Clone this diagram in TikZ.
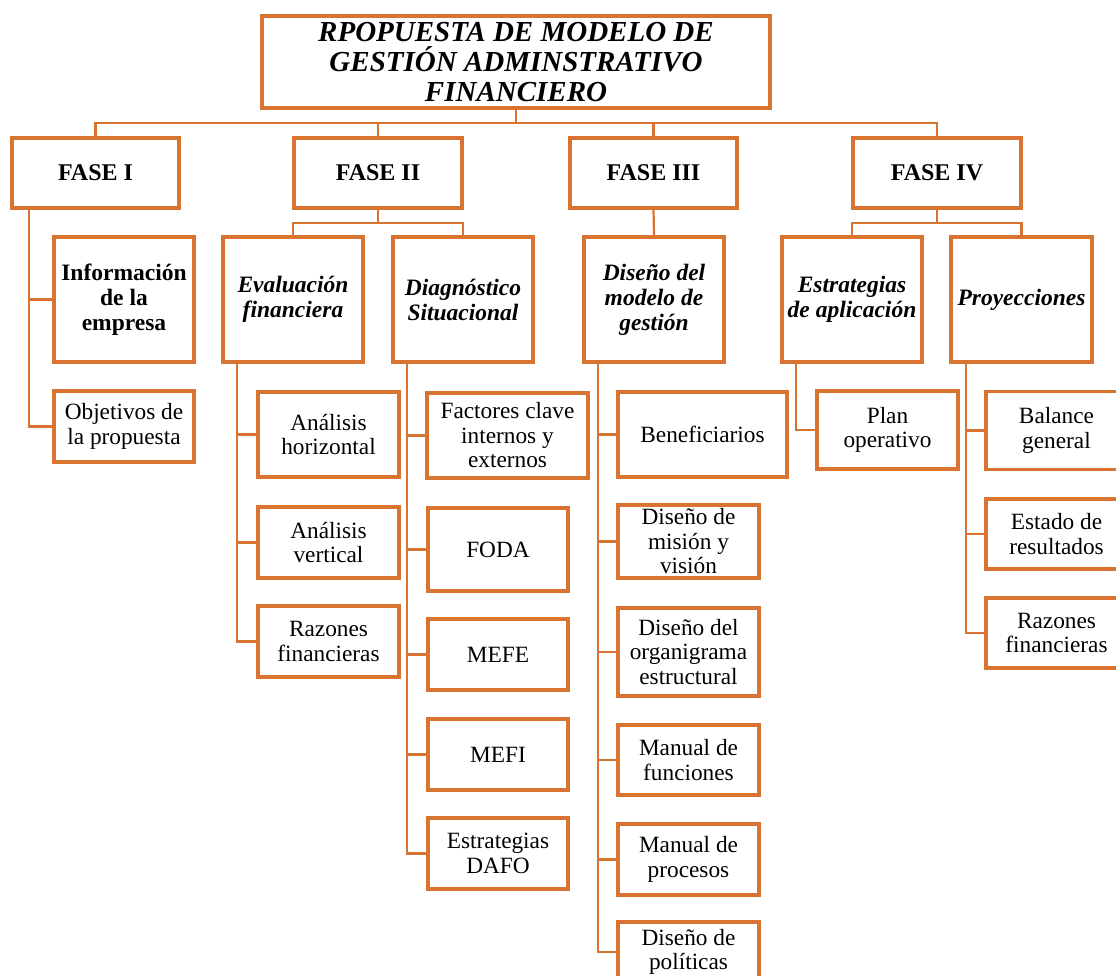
\documentclass[tikz,border=0pt]{standalone}
\usepackage{fontspec}
\setmainfont{Liberation Serif}
\definecolor{orgline}{RGB}{216,116,48}
\begin{document}
\begin{tikzpicture}[x=1pt,y=-1pt,
  box/.style={draw=orgline, line width=3.7pt, fill=white, align=center, inner sep=0pt, text=black},
  leaf/.style={box, font=\fontsize{23.3}{24.5}\selectfont},
  phase/.style={box, font=\fontsize{24}{26}\selectfont\bfseries},
  mid/.style={box, font=\fontsize{23.5}{25}\selectfont\bfseries\itshape},
  midup/.style={box, font=\fontsize{23.5}{25}\selectfont\bfseries},
  titlebox/.style={box, font=\fontsize{29}{30}\selectfont\bfseries\itshape},
  link/.style={draw=orgline, line width=2.2pt},
]
\useasboundingbox (0,0) rectangle (1116,976);

% title
\node[titlebox, minimum width=508, minimum height=92] (Title) at (516,62)
  {RPOPUESTA DE MODELO DE\\GESTIÓN ADMINSTRATIVO\\FINANCIERO};

% phases
\node[phase, minimum width=167, minimum height=70] (F1) at (95.5,173) {FASE I};
\node[phase, minimum width=168, minimum height=70] (F2) at (378,173) {FASE II};
\node[phase, minimum width=167, minimum height=70] (F3) at (653.5,173) {FASE III};
\node[phase, minimum width=168, minimum height=70] (F4) at (937,173) {FASE IV};

% second level
\node[midup, minimum width=140, minimum height=125] (Info) at (124,299.5) {Información\\de la\\empresa};
\node[mid, minimum width=140, minimum height=125] (Eval) at (293,299.5) {Evaluación\\financiera};
\node[mid, minimum width=140, minimum height=125] (Diag) at (463,299.5) {Diagnóstico\\Situacional};
\node[mid, minimum width=140, minimum height=125] (Mod) at (654,299.5) {Diseño del\\modelo de\\gestión};
\node[mid, minimum width=140, minimum height=125] (Estr) at (852,299.5) {Estrategias\\de aplicación};
\node[mid, minimum width=141, minimum height=125] (Proy) at (1021.5,299.5) {Proyecciones};

% phase I
\node[leaf, minimum width=140, minimum height=71] (Obj) at (124,426.5) {Objetivos de\\la propuesta};

% financial evaluation
\node[leaf, minimum width=141, minimum height=85] (AnH) at (328.5,434.5) {Análisis\\horizontal};
\node[leaf, minimum width=141, minimum height=71] (AnV) at (328.5,542.5) {Análisis\\vertical};
\node[leaf, minimum width=141, minimum height=71] (RazA) at (328.5,641.5) {Razones\\financieras};

% situational diagnosis
\node[leaf, minimum width=161, minimum height=85] (Fac) at (507.5,435.5) {Factores clave\\internos y\\externos};
\node[leaf, minimum width=140, minimum height=83] (Foda) at (498,549.5) {FODA};
\node[leaf, minimum width=140, minimum height=71] (Mefe) at (498,654.5) {MEFE};
\node[leaf, minimum width=140, minimum height=71] (Mefi) at (498,754.5) {MEFI};
\node[leaf, minimum width=140, minimum height=71] (Dafo) at (498,853.5) {Estrategias\\DAFO};

% management model design
\node[leaf, minimum width=169, minimum height=85] (Ben) at (702.5,434.5) {Beneficiarios};
\node[leaf, minimum width=141, minimum height=73] (Mis) at (688.5,541.5) {Diseño de\\misión y\\visión};
\node[leaf, minimum width=141, minimum height=88] (Org) at (688.5,652) {Diseño del\\organigrama\\estructural};
\node[leaf, minimum width=141, minimum height=70] (Fun) at (688.5,760) {Manual de\\funciones};
\node[leaf, minimum width=141, minimum height=71] (Pro) at (688.5,859.5) {Manual de\\procesos};
\node[leaf, minimum width=141, minimum height=60] (Pol) at (688.5,952) {Diseño de\\políticas};

% application strategies
\node[leaf, minimum width=141, minimum height=78] (Plan) at (887.5,430) {Plan\\operativo};

% projections
\node[leaf, minimum width=141, minimum height=78] (Bal) at (1056.5,430.5) {Balance\\general};
\node[leaf, minimum width=141, minimum height=70] (Est) at (1056.5,534) {Estado de\\resultados};
\node[leaf, minimum width=141, minimum height=70] (RazB) at (1056.5,633) {Razones\\financieras};

% bus lines
\coordinate (busA) at (0,123);
\coordinate (busB) at (0,223);
\coordinate (vI) at (29,0);
\coordinate (vE) at (237,0);
\coordinate (vD) at (407,0);
\coordinate (vM) at (598,0);
\coordinate (vA) at (796,0);
\coordinate (vP) at (966,0);

% title to phases
\draw[link] (Title.south) -- (Title.south |- busA);
\draw[link] (F1.north) |- (F4.north |- busA) -- (F4.north);
\draw[link] (F2.north) -- (F2.north |- busA);
\draw[link] (F3.north) -- (F3.north |- busA);

% phases to second level
\draw[link] (F2.south) -- (F2.south |- busB);
\draw[link] (Eval.north) |- (Diag.north |- busB) -- (Diag.north);
\draw[link] (F3.south) -- (Mod.north);
\draw[link] (F4.south) -- (F4.south |- busB);
\draw[link] (Estr.north) |- (Proy.north |- busB) -- (Proy.north);

% phase I branch
\draw[link] (F1.south -| vI) |- (Obj.west);
\draw[link] (Info.west -| vI) -- (Info.west);

% evaluation branch
\draw[link] (Eval.south -| vE) |- (RazA.west);
\foreach \n in {AnH,AnV} \draw[link] (\n.west -| vE) -- (\n.west);

% diagnosis branch
\draw[link] (Diag.south -| vD) |- (Dafo.west);
\foreach \n in {Fac,Foda,Mefe,Mefi} \draw[link] (\n.west -| vD) -- (\n.west);

% model design branch
\draw[link] (Mod.south -| vM) |- (Pol.west);
\foreach \n in {Ben,Mis,Org,Fun,Pro} \draw[link] (\n.west -| vM) -- (\n.west);

% strategies branch
\draw[link] (Estr.south -| vA) |- (Plan.west);

% projections branch
\draw[link] (Proy.south -| vP) |- (RazB.west);
\foreach \n in {Bal,Est} \draw[link] (\n.west -| vP) -- (\n.west);
\end{tikzpicture}
\end{document}
